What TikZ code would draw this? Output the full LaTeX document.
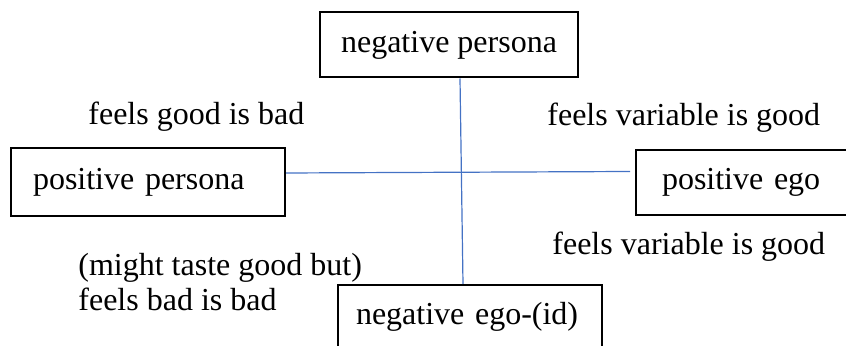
\documentclass[tikz,border=0pt]{standalone}
\usepackage{fontspec}
\setmainfont{Liberation Serif}
\definecolor{linkblue}{RGB}{68,114,196}
\begin{document}
\begin{tikzpicture}[x=0.5pt,y=-0.5pt,
  font=\fontsize{16}{17.5}\selectfont,
  box/.style={draw, line width=1pt, inner ysep=0pt, align=left},
  lbl/.style={inner sep=0pt, anchor=west},
  link/.style={draw=linkblue, line width=0.6pt}]
\useasboundingbox (0,0) rectangle (846,346);
\node[box, minimum width=129pt, minimum height=32.5pt] (negpersona) at (449,45) {negative persona};
\node[box, minimum height=34pt, text width=115pt, inner xsep=11pt] (pospersona) at (148,182) {positive persona};
\node[box, minimum height=32.5pt, text width=84pt, inner xsep=13pt] (posego) at (746,182.5) {positive ego};
\node[box, minimum height=32pt, text width=114pt, inner xsep=9pt] (negego) at (470,317) {\mbox{negative ego-(id)}};
\path[link] ([xshift=5.5pt]negpersona.south) -- ([xshift=-3.5pt]negego.north);
\path[link] ([yshift=4.5pt]pospersona.east) -- ([xshift=-2.5pt,yshift=5.5pt]posego.west);
\node[lbl] (goodbad) at (88,117) {feels good is bad};
\node[lbl] (vargood) at (547,118) {feels variable is good};
\node[lbl] (vargoodlow) at (552,247) {feels variable is good};
\node[lbl, anchor=north west, align=left] (badbad) at (78,253) {(might taste good but)\\feels bad is bad};
\end{tikzpicture}
\end{document}
